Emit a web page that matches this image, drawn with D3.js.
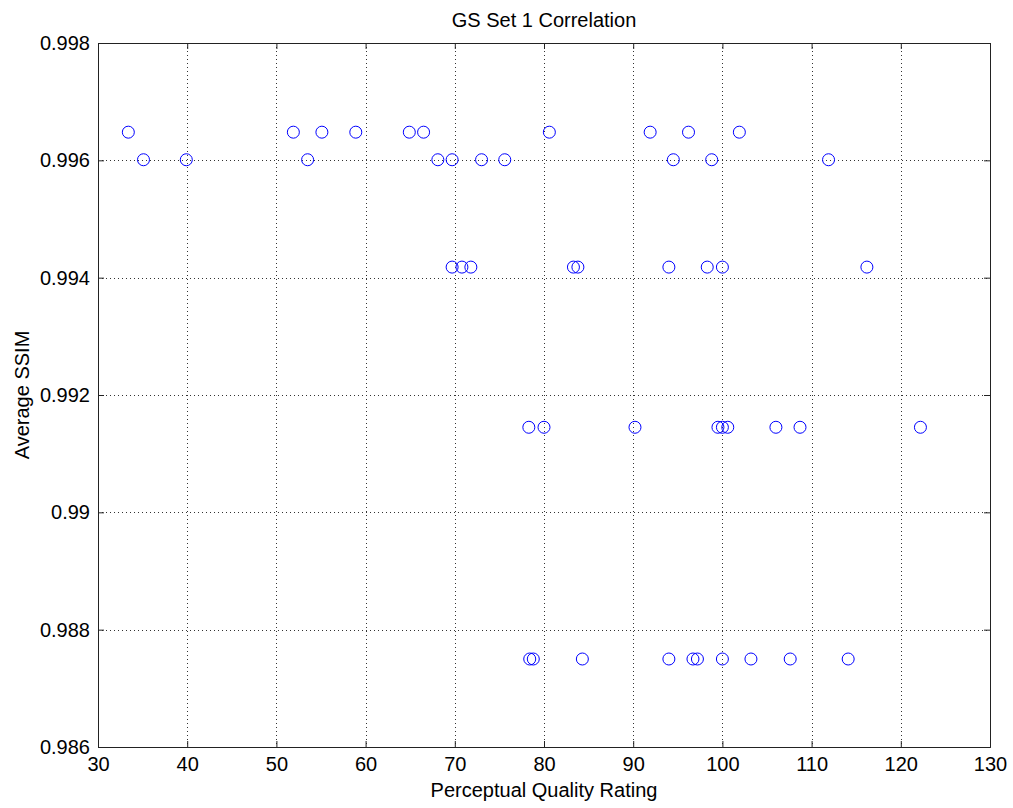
<!DOCTYPE html>
<html>
<head>
<meta charset="utf-8">
<script src="https://cdn.jsdelivr.net/npm/d3@7"></script>
<style>
body { margin: 0; background: #fff; }
svg text { font-family: "Liberation Sans", Arial, sans-serif; fill: #000; }
</style>
</head>
<body>
<svg id="chart" width="1013" height="808"></svg>
<script>
// ssim levels (one per row of points)
let ssimLevels = [0.99648, 0.99601, 0.99418, 0.99145, 0.98750]
// perceptual quality ratings for each ssim level
let ratingsA = [33.4, 51.9, 55.1, 58.9, 64.9, 66.5, 80.6, 91.9, 96.2, 101.9]
let ratingsB = [35.1, 39.9, 53.5, 68.1, 69.7, 73.0, 75.6, 94.5, 98.8, 111.9]
let ratingsC = [69.7, 70.8, 71.8, 83.3, 83.8, 94.0, 98.3, 100.0, 116.2]
let ratingsD = [78.3, 80.0, 90.2, 99.5, 100.0, 100.6, 106.0, 108.7, 122.2]
let ratingsE = [78.4, 78.8, 84.3, 94.0, 96.7, 97.2, 100.0, 103.2, 107.6, 114.1]
let xTicks = [30, 40, 50, 60, 70, 80, 90, 100, 110, 120, 130]
let yTicks = [0.986, 0.988, 0.99, 0.992, 0.994, 0.996, 0.998]

let points = []
;[ratingsA, ratingsB, ratingsC, ratingsD, ratingsE].forEach((r, i) => {
    r.forEach(v => points.push({x: v, y: ssimLevels[i]}))
})

let pL = 98, pR = 990, pT = 43, pB = 747
let fs = 20
let svg = d3.select('#chart')

let x = d3.scaleLinear().domain([30, 130]).range([pL, pR])
let y = d3.scaleLinear().domain([0.986, 0.998]).range([pB, pT])

// grid
svg.append('g')
    .selectAll('line')
    .data(xTicks.slice(1, -1))
    .enter()
    .append('line')
    .attr('x1', d => Math.round(x(d)) + 0.5)
    .attr('x2', d => Math.round(x(d)) + 0.5)
    .attr('y1', pT)
    .attr('y2', pB)
    .attr('stroke', '#333')
    .attr('stroke-width', 1)
    .attr('stroke-dasharray', '1,3')
svg.append('g')
    .selectAll('line')
    .data(yTicks.slice(1, -1))
    .enter()
    .append('line')
    .attr('y1', d => Math.round(y(d)) + 0.5)
    .attr('y2', d => Math.round(y(d)) + 0.5)
    .attr('x1', pL)
    .attr('x2', pR)
    .attr('stroke', '#333')
    .attr('stroke-width', 1)
    .attr('stroke-dasharray', '1,3')

// axes, ticks pointing inward
let fmtY = d => String(+d.toFixed(3))
svg.append('g')
    .attr('transform', 'translate(0,' + pB + ')')
    .call(d3.axisBottom(x).tickValues(xTicks).tickSize(-6).tickPadding(10))
    .call(g => g.selectAll('text').attr('font-size', fs))
svg.append('g')
    .attr('transform', 'translate(0,' + pT + ')')
    .call(d3.axisTop(x).tickValues(xTicks).tickSize(-6).tickFormat(''))
svg.append('g')
    .attr('transform', 'translate(' + pL + ',0)')
    .call(d3.axisLeft(y).tickValues(yTicks).tickSize(-6).tickPadding(8).tickFormat(fmtY))
    .call(g => g.selectAll('text').attr('font-size', fs))
svg.append('g')
    .attr('transform', 'translate(' + pR + ',0)')
    .call(d3.axisRight(y).tickValues(yTicks).tickSize(-6).tickFormat(''))
svg.selectAll('.domain').attr('stroke', '#222')
svg.selectAll('.tick line').attr('stroke', '#222')

// points
svg.append('g')
    .selectAll('circle')
    .data(points)
    .enter()
    .append('circle')
    .attr('cx', d => x(d.x))
    .attr('cy', d => y(d.y))
    .attr('r', 6)
    .attr('fill', 'none')
    .attr('stroke', '#0000ff')
    .attr('stroke-width', 1)

// labels
svg.append('text')
    .attr('x', (pL + pR) / 2)
    .attr('y', 27)
    .attr('text-anchor', 'middle')
    .attr('font-size', fs)
    .text('GS Set 1 Correlation')
svg.append('text')
    .attr('x', (pL + pR) / 2)
    .attr('y', 797)
    .attr('text-anchor', 'middle')
    .attr('font-size', fs)
    .text('Perceptual Quality Rating')
svg.append('text')
    .attr('transform', 'translate(29,' + (pT + pB) / 2 + ') rotate(-90)')
    .attr('text-anchor', 'middle')
    .attr('font-size', fs)
    .text('Average SSIM')
</script>
</body>
</html>
